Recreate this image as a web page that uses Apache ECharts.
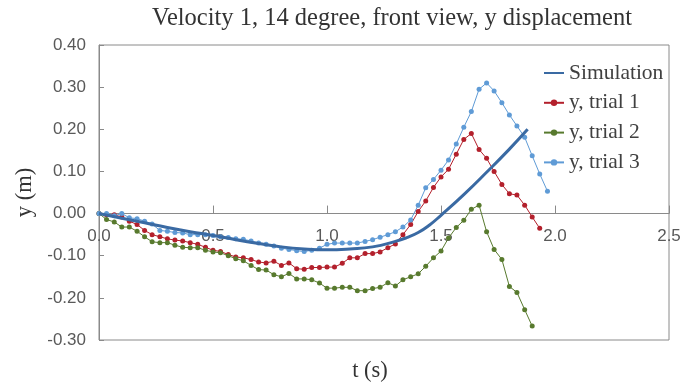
<!DOCTYPE html>
<html>
<head>
<meta charset="utf-8">
<script src="https://cdn.jsdelivr.net/npm/echarts@6/dist/echarts.min.js"></script>
<style>
html,body{margin:0;padding:0;background:#fff;}
#chart{width:681px;height:385px;}
</style>
</head>
<body>
<div id="chart"></div>
<script>
// ---- data ----
const titleText = 'Velocity 1, 14 degree, front view, y displacement';
const xTickLabels = ['0.0', '0.5', '1.0', '1.5', '2.0', '2.5'];
const yTickLabels = ['-0.30', '-0.20', '-0.10', '0.00', '0.10', '0.20', '0.30', '0.40'];
const seriesNames = ['Simulation', 'y, trial 1', 'y, trial 2', 'y, trial 3'];

const simT = [0, 0.1, 0.2, 0.3, 0.4, 0.5, 0.6, 0.7, 0.8, 0.9, 1.0, 1.1, 1.2, 1.3, 1.35, 1.4, 1.45, 1.5, 1.6, 1.7, 1.8, 1.88];
const simY = [0, -0.011, -0.022, -0.033, -0.043, -0.052, -0.062, -0.071, -0.079, -0.084, -0.086, -0.084, -0.079, -0.066, -0.057, -0.045, -0.027, -0.004, 0.045, 0.098, 0.153, 0.200];

const frameT = [0.000, 0.033, 0.067, 0.100, 0.133, 0.167, 0.200, 0.233, 0.267, 0.300,
  0.333, 0.367, 0.400, 0.433, 0.467, 0.500, 0.533, 0.567, 0.600, 0.633,
  0.667, 0.700, 0.733, 0.767, 0.800, 0.833, 0.867, 0.900, 0.933, 0.967,
  1.000, 1.033, 1.067, 1.100, 1.133, 1.167, 1.200, 1.233, 1.267, 1.300,
  1.333, 1.367, 1.400, 1.433, 1.467, 1.500, 1.533, 1.567, 1.600, 1.633,
  1.667, 1.700, 1.733, 1.767, 1.800, 1.833, 1.867, 1.900, 1.933, 1.967];

const trial1 = [0.000, -0.003, -0.003, -0.008, -0.018, -0.026, -0.040, -0.050, -0.055, -0.060,
  -0.063, -0.065, -0.069, -0.073, -0.080, -0.087, -0.090, -0.097, -0.103, -0.105,
  -0.109, -0.115, -0.117, -0.113, -0.123, -0.117, -0.131, -0.132, -0.128, -0.128,
  -0.127, -0.127, -0.118, -0.105, -0.105, -0.095, -0.095, -0.091, -0.081, -0.072,
  -0.050, -0.026, 0.005, 0.030, 0.062, 0.087, 0.105, 0.141, 0.176, 0.190,
  0.152, 0.131, 0.100, 0.069, 0.047, 0.044, 0.020, -0.008, -0.035];

const trial2 = [0.000, -0.014, -0.020, -0.032, -0.032, -0.042, -0.055, -0.067, -0.069, -0.069,
  -0.075, -0.080, -0.081, -0.081, -0.087, -0.091, -0.093, -0.100, -0.107, -0.112,
  -0.123, -0.133, -0.134, -0.145, -0.150, -0.142, -0.155, -0.155, -0.157, -0.165,
  -0.177, -0.177, -0.175, -0.175, -0.183, -0.183, -0.178, -0.175, -0.164, -0.172,
  -0.157, -0.150, -0.143, -0.125, -0.105, -0.089, -0.058, -0.033, -0.016, 0.010,
  0.020, -0.043, -0.085, -0.109, -0.173, -0.187, -0.228, -0.267];

const trial3 = [0.000, 0.000, -0.005, 0.000, -0.010, -0.012, -0.018, -0.025, -0.040, -0.042,
  -0.045, -0.046, -0.050, -0.050, -0.050, -0.052, -0.055, -0.057, -0.060, -0.061,
  -0.065, -0.070, -0.073, -0.077, -0.082, -0.085, -0.088, -0.090, -0.087, -0.082,
  -0.073, -0.070, -0.070, -0.070, -0.070, -0.066, -0.062, -0.056, -0.050, -0.043,
  -0.032, -0.015, 0.020, 0.061, 0.081, 0.103, 0.127, 0.165, 0.205, 0.242,
  0.295, 0.310, 0.291, 0.263, 0.234, 0.208, 0.181, 0.137, 0.094, 0.053];

function pairs(xs, ys) { return ys.map((y, i) => [xs[i], y]); }

const colors = { sim: '#3a6aa3', t1: '#b3202c', t2: '#587a2e', t3: '#5f9bd6' };
const serif = '"Liberation Serif", "Times New Roman", serif';
const sans = '"Liberation Sans", Arial, sans-serif';

const chart = echarts.init(document.getElementById('chart'));
chart.setOption({
  animation: false,
  backgroundColor: '#ffffff',
  title: {
    text: titleText,
    left: 392, top: 6, padding: 0, textAlign: 'center',
    textStyle: { fontFamily: serif, fontSize: 24.5, fontWeight: 'normal', color: '#333333' }
  },
  legend: {
    data: [
      { name: seriesNames[0], itemStyle: { opacity: 0 } },
      { name: seriesNames[1] },
      { name: seriesNames[2] },
      { name: seriesNames[3] }
    ],
    orient: 'vertical',
    left: 543, top: 62, padding: 0,
    itemWidth: 20, itemHeight: 8, itemGap: 7.8,
    textStyle: { fontFamily: serif, fontSize: 21.5, color: '#404040' }
  },
  grid: {
    left: 99, right: 12, top: 45, bottom: 45,
    outerBoundsMode: 'none', containLabel: false,
    show: true, borderColor: '#8a8a8a', borderWidth: 1
  },
  xAxis: {
    type: 'value', min: 0, max: 2.5, interval: 0.5,
    name: 't (s)', nameLocation: 'middle', nameGap: 20,
    nameTextStyle: { fontFamily: serif, fontSize: 22.5, color: '#333333', padding: [0, 28, 0, 0] },
    axisLine: { onZero: true, lineStyle: { color: '#8a8a8a', width: 1 } },
    axisTick: { inside: true, length: 8, lineStyle: { color: '#8a8a8a' } },
    axisLabel: { margin: -112, fontFamily: sans, fontSize: 17, color: '#595959',
      formatter: v => xTickLabels[Math.round(v / 0.5)] },
    splitLine: { show: false }
  },
  yAxis: {
    type: 'value', min: -0.3, max: 0.4, interval: 0.1,
    name: 'y (m)', nameLocation: 'middle', nameGap: 62,
    nameTextStyle: { fontFamily: serif, fontSize: 22.5, color: '#333333' },
    axisLine: { show: true, onZero: false, lineStyle: { color: '#8a8a8a', width: 1 } },
    axisTick: { show: true, inside: true, length: 5, lineStyle: { color: '#8a8a8a' } },
    axisLabel: { margin: 13, fontFamily: sans, fontSize: 17, color: '#595959',
      formatter: v => yTickLabels[Math.round((v + 0.3) / 0.1)] },
    splitLine: { show: false }
  },
  series: [
    { name: seriesNames[0], type: 'line', data: pairs(simT, simY), smooth: true,
      symbol: 'none', z: 5, lineStyle: { color: colors.sim, width: 3 }, itemStyle: { color: colors.sim } },
    { name: seriesNames[1], type: 'line', data: pairs(frameT, trial1), symbol: 'circle', symbolSize: 5,
      z: 3, lineStyle: { color: colors.t1, width: 1 }, itemStyle: { color: colors.t1 } },
    { name: seriesNames[2], type: 'line', data: pairs(frameT, trial2), symbol: 'circle', symbolSize: 5,
      z: 3, lineStyle: { color: colors.t2, width: 1 }, itemStyle: { color: colors.t2 } },
    { name: seriesNames[3], type: 'line', data: pairs(frameT, trial3), symbol: 'circle', symbolSize: 5,
      z: 3, lineStyle: { color: colors.t3, width: 1 }, itemStyle: { color: colors.t3 } }
  ]
});
</script>
</body>
</html>
